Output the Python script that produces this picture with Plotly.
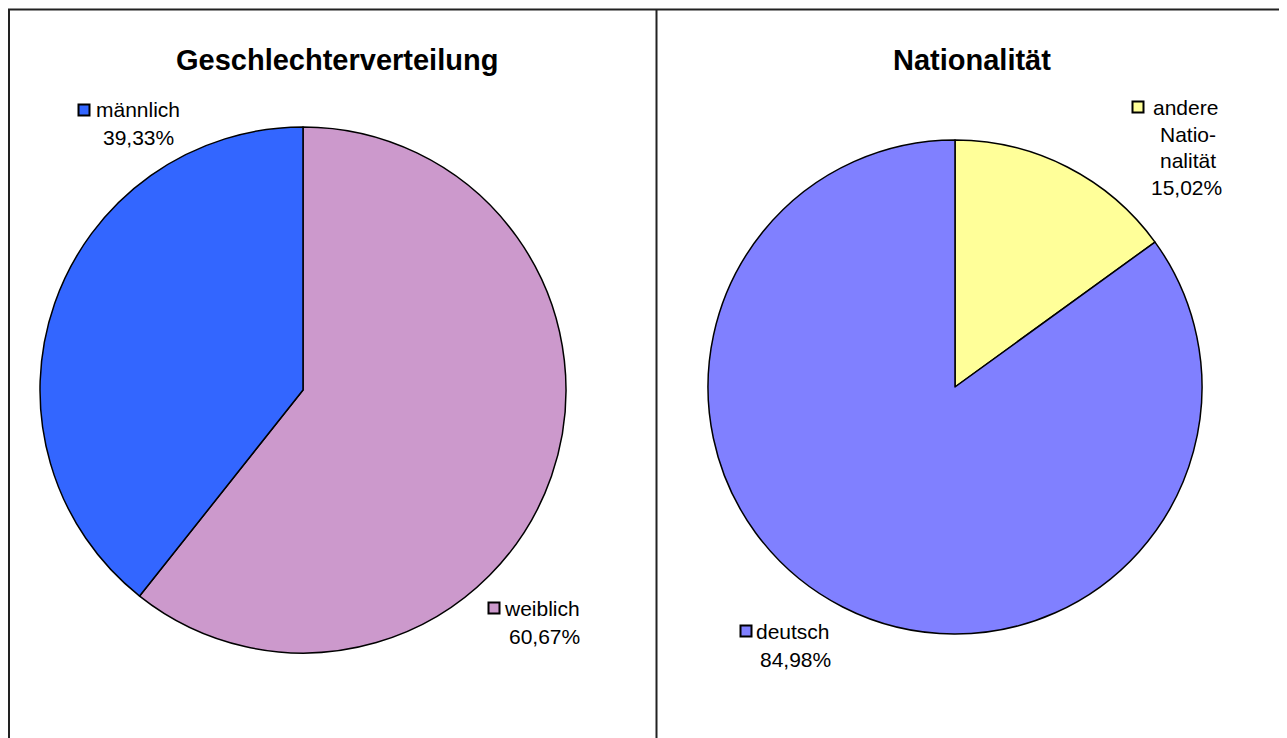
import plotly.graph_objects as go

# Page offset of 8px (body margin) -> figure is drawn from page (8, 8)
OFF = 8
W, H = 1287 - OFF, 738 - OFF

# Data
gender_labels = ["weiblich", "männlich"]
gender_values = [60.67, 39.33]
gender_colors = ["#CC99CC", "#3366FF"]

nation_labels = ["andere Nationalität", "deutsch"]
nation_values = [15.02, 84.98]
nation_colors = ["#FFFF99", "#8080FF"]

titles = ["Geschlechterverteilung", "Nationalität"]

def px(x):
    return (x - OFF) / W

def py(y):
    return 1 - (y - OFF) / H

fig = go.Figure()

fig.add_trace(go.Pie(
    labels=gender_labels, values=gender_values, sort=False,
    direction="clockwise", rotation=0,
    marker=dict(colors=gender_colors, line=dict(color="black", width=1.5)),
    textinfo="none", hoverinfo="label+percent",
    domain=dict(x=[px(40), px(566)], y=[py(653), py(127)]),
    showlegend=False,
))
fig.add_trace(go.Pie(
    labels=nation_labels, values=nation_values, sort=False,
    direction="clockwise", rotation=0,
    marker=dict(colors=nation_colors, line=dict(color="black", width=1.5)),
    textinfo="none", hoverinfo="label+percent",
    domain=dict(x=[px(708), px(1202)], y=[py(634), py(140)]),
    showlegend=False,
))

def fmt(v):
    return f"{v:.2f}".replace(".", ",") + "%"

FAM = "Liberation Sans, Arial, sans-serif"
font = dict(family=FAM, size=21, color="black")
ann = []
# Titles
ann.append(dict(x=px(337), y=py(60), text=f"<b>{titles[0]}</b>", showarrow=False,
                xanchor="center", yanchor="middle",
                font=dict(family=FAM, size=29, color="black")))
ann.append(dict(x=px(972), y=py(60), text=f"<b>{titles[1]}</b>", showarrow=False,
                xanchor="center", yanchor="middle",
                font=dict(family=FAM, size=29, color="black")))

def line(text, x, y, anchor="left"):
    ann.append(dict(x=px(x), y=py(y), text=text, showarrow=False,
                    xanchor=anchor, yanchor="middle", font=font))

# männlich
line(gender_labels[1], 94, 110)
line(fmt(gender_values[1]), 138, 137, "center")
# weiblich
line(gender_labels[0], 502, 608)
line(fmt(gender_values[0]), 544, 636, "center")
# andere Nationalität
line("andere", 1151, 107)
line("Natio-", 1188, 134, "center")
line("nalität", 1188, 160, "center")
line(fmt(nation_values[0]), 1186, 187, "center")
# deutsch
line(nation_labels[1], 754, 631)
line(fmt(nation_values[1]), 796, 659, "center")

shapes = []
def square(x0, y0, color):
    shapes.append(dict(type="rect", xref="paper", yref="paper",
                       x0=px(x0), x1=px(x0 + 11), y0=py(y0 + 11), y1=py(y0),
                       fillcolor=color, line=dict(color="black", width=2)))

square(78.5, 104.5, gender_colors[1])
square(488.5, 602.5, gender_colors[0])
square(1132.5, 101.5, nation_colors[0])
square(740.5, 625.5, nation_colors[1])

# Panel borders
bc = "#222222"
for x in [9, 656.5, 1280.5]:
    shapes.append(dict(type="line", xref="paper", yref="paper",
                       x0=px(x), x1=px(x), y0=py(9), y1=py(745),
                       line=dict(color=bc, width=2)))
shapes.append(dict(type="line", xref="paper", yref="paper",
                   x0=px(8), x1=px(1281.5), y0=py(9.5), y1=py(9.5),
                   line=dict(color=bc, width=2)))

fig.update_layout(
    width=W, height=H,
    margin=dict(l=0, r=0, t=0, b=0),
    paper_bgcolor="white", plot_bgcolor="white",
    annotations=ann, shapes=shapes,
    showlegend=False,
)

fig.write_html("out.html")
